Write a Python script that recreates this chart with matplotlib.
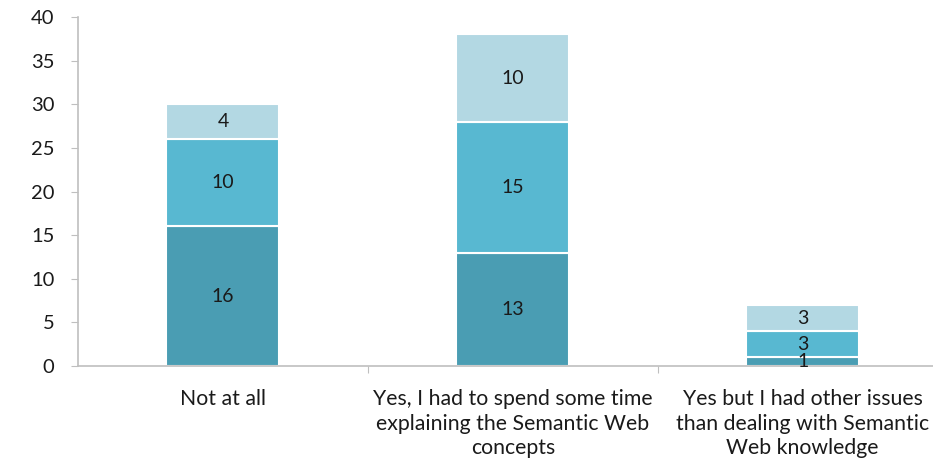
import matplotlib

matplotlib.use("Agg")
import matplotlib.pyplot as plt
import numpy as np

plt.rcParams["font.family"] = ["Lato", "DejaVu Sans"]

categories = [
    "Not at all",
    "Yes, I had to spend some time\nexplaining the Semantic Web\nconcepts",
    "Yes but I had other issues\nthan dealing with Semantic\nWeb knowledge",
]
bottom_vals = [16, 13, 1]
middle_vals = [10, 15, 3]
top_vals = [4, 10, 3]
series = [bottom_vals, middle_vals, top_vals]
colors = ["#4a9db3", "#58b8d1", "#b3d8e3"]

fig = plt.figure(figsize=(9.33, 4.70), dpi=100)
ax = fig.add_axes([0.0836, 0.221, 0.932, 0.743])

x = np.arange(len(categories))
base = np.zeros(len(categories))
for vals, col in zip(series, colors):
    bars = ax.bar(x, vals, width=0.39, bottom=base, color=col,
                  edgecolor="white", linewidth=1.5)
    for rect, v in zip(bars, vals):
        ax.text(rect.get_x() + rect.get_width() / 2,
                rect.get_y() + rect.get_height() / 2, str(v),
                ha="center", va="center", fontsize=14, color="#1a1a1a")
    base += np.array(vals)

ax.set_xlim(-0.5, 2.5)
ax.set_ylim(0, 40)
ax.set_yticks(np.arange(0, 41, 5))
ax.tick_params(axis="y", length=5, color="#bfbfbf", labelsize=14.5,
               labelcolor="#1a1a1a", pad=12)

# category labels below, boundary ticks on x axis
ax.set_xticks([0.5, 1.5])
ax.set_xticklabels([])
ax.tick_params(axis="x", length=5, color="#bfbfbf")
for xi, lab in zip(x, categories):
    ax.text(xi, -2.6, lab, ha="center", va="top", fontsize=15.3,
            color="#1a1a1a", linespacing=1.3)

for side in ["top", "right"]:
    ax.spines[side].set_visible(False)
for side in ["left", "bottom"]:
    ax.spines[side].set_color("#bfbfbf")
    ax.spines[side].set_linewidth(1.2)

fig.savefig("out.png", dpi=100)
